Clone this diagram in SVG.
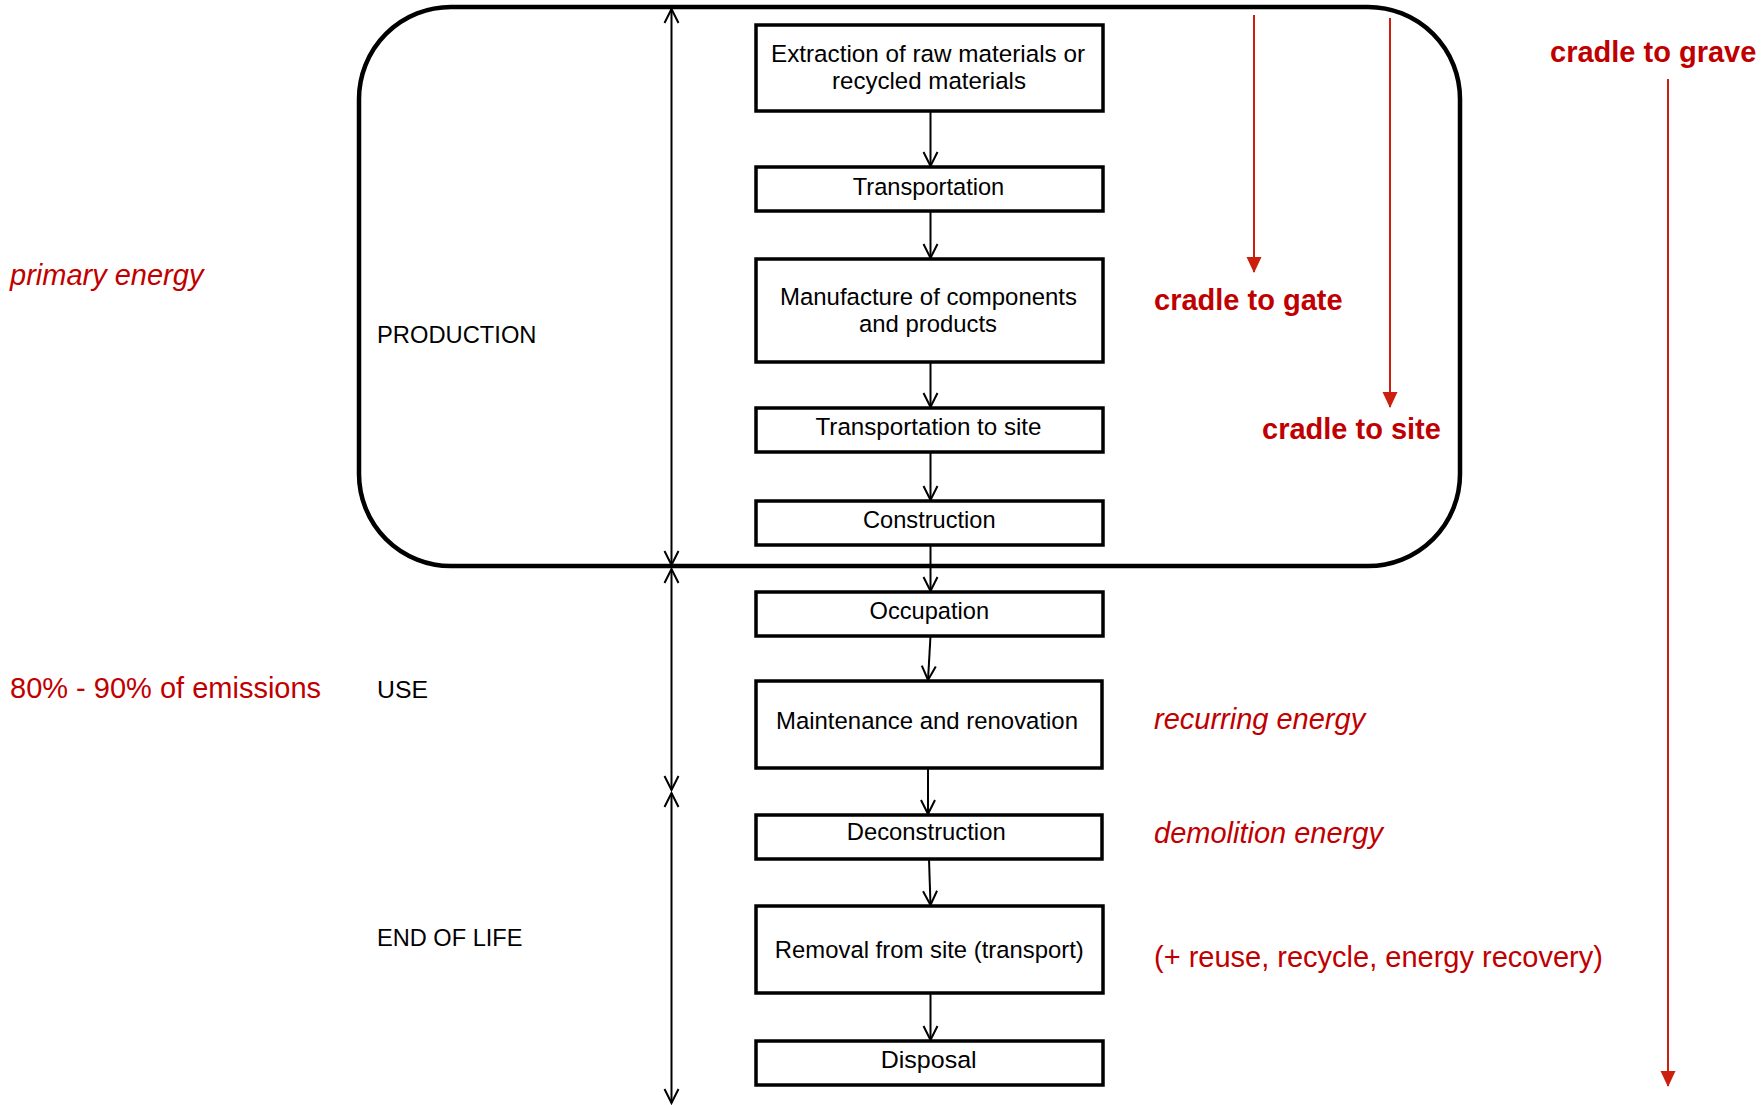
<svg xmlns="http://www.w3.org/2000/svg" width="1761" height="1105" viewBox="0 0 1761 1105">
  <style>
    .box { fill: #fff; stroke: #000; stroke-width: 3.5; }
    .frame { fill: none; stroke: #000; stroke-width: 4.5; }
    .flow { fill: none; stroke: #000; stroke-width: 2; marker-end: url(#vhead); }
    .dim { fill: none; stroke: #000; stroke-width: 2; marker-start: url(#vhead); marker-end: url(#vhead); }
    .red { fill: none; stroke: #cc200e; stroke-width: 2; marker-end: url(#redhead); }
    .lbl { font-family: "Liberation Sans", Arial, sans-serif; font-size: 24.5px; fill: #000; text-anchor: middle; }
    .phase { font-family: "Liberation Sans", Arial, sans-serif; font-size: 24px; fill: #000; }
    .note { font-family: "Liberation Sans", Arial, sans-serif; font-size: 29px; fill: #c00000; }
    .it { font-style: italic; }
    .bd { font-weight: bold; }
  </style>
  <defs>
    <marker id="vhead" markerUnits="userSpaceOnUse" markerWidth="20" markerHeight="20" viewBox="0 0 20 20" refX="18" refY="10" orient="auto-start-reverse">
      <path d="M4,3 L18,10 L4,17" fill="none" stroke="#000" stroke-width="2"/>
    </marker>
    <marker id="redhead" markerUnits="userSpaceOnUse" markerWidth="16" markerHeight="16" viewBox="0 0 16 16" refX="15" refY="8" orient="auto">
      <path d="M0,0.5 L16,8 L0,15.5 z" fill="#cc200e"/>
    </marker>
  </defs>

  <!-- production envelope -->
  <rect class="frame" x="359" y="7" width="1101" height="559" rx="92" ry="92"/>

  <!-- phase labels -->
  <text class="phase" x="377" y="343" textLength="159.5" lengthAdjust="spacingAndGlyphs">PRODUCTION</text>
  <text class="phase" x="377" y="698" textLength="51" lengthAdjust="spacingAndGlyphs">USE</text>
  <text class="phase" x="377" y="946" textLength="145.5" lengthAdjust="spacingAndGlyphs">END OF LIFE</text>

  <!-- life-cycle stages -->
  <g id="extraction">
    <rect class="box" x="756" y="25" width="347" height="86"/>
    <text class="lbl" x="928" y="62" textLength="314" lengthAdjust="spacingAndGlyphs">Extraction of raw materials or</text>
    <text class="lbl" x="929" y="89" textLength="194" lengthAdjust="spacingAndGlyphs">recycled materials</text>
  </g>
  <g id="transportation">
    <rect class="box" x="756" y="167" width="347" height="44"/>
    <text class="lbl" x="928.5" y="195" textLength="151.5" lengthAdjust="spacingAndGlyphs">Transportation</text>
  </g>
  <g id="manufacture">
    <rect class="box" x="756" y="259" width="347" height="103"/>
    <text class="lbl" x="928.5" y="305" textLength="297" lengthAdjust="spacingAndGlyphs">Manufacture  of components</text>
    <text class="lbl" x="928" y="332" textLength="138" lengthAdjust="spacingAndGlyphs">and products</text>
  </g>
  <g id="transport-to-site">
    <rect class="box" x="756" y="408" width="347" height="44"/>
    <text class="lbl" x="928.5" y="434.5" textLength="226" lengthAdjust="spacingAndGlyphs">Transportation  to site</text>
  </g>
  <g id="construction">
    <rect class="box" x="756" y="501" width="347" height="44"/>
    <text class="lbl" x="929.3" y="527.5" textLength="132.6" lengthAdjust="spacingAndGlyphs">Construction</text>
  </g>
  <g id="occupation">
    <rect class="box" x="756" y="592" width="347" height="44"/>
    <text class="lbl" x="929.3" y="619" textLength="119.5" lengthAdjust="spacingAndGlyphs">Occupation</text>
  </g>
  <g id="maintenance">
    <rect class="box" x="756" y="681" width="346" height="87"/>
    <text class="lbl" x="927" y="729" textLength="302" lengthAdjust="spacingAndGlyphs">Maintenance  and renovation</text>
  </g>
  <g id="deconstruction">
    <rect class="box" x="756" y="815" width="346" height="44"/>
    <text class="lbl" x="926.2" y="840" textLength="159" lengthAdjust="spacingAndGlyphs">Deconstruction</text>
  </g>
  <g id="removal">
    <rect class="box" x="756" y="906" width="347" height="87"/>
    <text class="lbl" x="929.3" y="958" textLength="309" lengthAdjust="spacingAndGlyphs">Removal from site (transport)</text>
  </g>
  <g id="disposal">
    <rect class="box" x="756" y="1041" width="347" height="44"/>
    <text class="lbl" x="928.7" y="1068" textLength="96" lengthAdjust="spacingAndGlyphs">Disposal</text>
  </g>

  <!-- connectors -->
  <g id="connectors">
    <line class="flow" x1="930.5" y1="111" x2="930.5" y2="166"/>
    <line class="flow" x1="930.5" y1="211" x2="930.5" y2="258"/>
    <line class="flow" x1="930.5" y1="362" x2="930.5" y2="407"/>
    <line class="flow" x1="930.5" y1="452" x2="930.5" y2="500"/>
    <line class="flow" x1="930.5" y1="545" x2="930.5" y2="591"/>
    <line class="flow" x1="930.5" y1="636" x2="928" y2="680"/>
    <line class="flow" x1="928" y1="768" x2="928" y2="814"/>
    <line class="flow" x1="929" y1="859" x2="930.5" y2="905"/>
    <line class="flow" x1="930.5" y1="993" x2="930.5" y2="1040"/>

    <!-- phase extents -->
    <line class="dim" x1="671.5" y1="9" x2="671.5" y2="565"/>
    <line class="dim" x1="671.5" y1="569" x2="671.5" y2="790"/>
    <line class="dim" x1="671.5" y1="793" x2="671.5" y2="1103"/>

    <!-- system boundaries -->
    <line class="red" x1="1254" y1="15" x2="1254" y2="272"/>
    <line class="red" x1="1390" y1="18" x2="1390" y2="407"/>
    <line class="red" x1="1668" y1="79" x2="1668" y2="1086"/>
  </g>

  <!-- annotations -->
  <text class="note it" x="10" y="285">primary energy</text>
  <text class="note" x="10" y="698">80% - 90% of emissions</text>
  <text class="note bd" x="1550" y="62">cradle to grave</text>
  <text class="note bd" x="1154" y="310">cradle to gate</text>
  <text class="note bd" x="1262" y="439">cradle to site</text>
  <text class="note it" x="1154" y="729">recurring energy</text>
  <text class="note it" x="1154" y="843">demolition energy</text>
  <text class="note" x="1154" y="967">(+ reuse, recycle, energy recovery)</text>
</svg>
